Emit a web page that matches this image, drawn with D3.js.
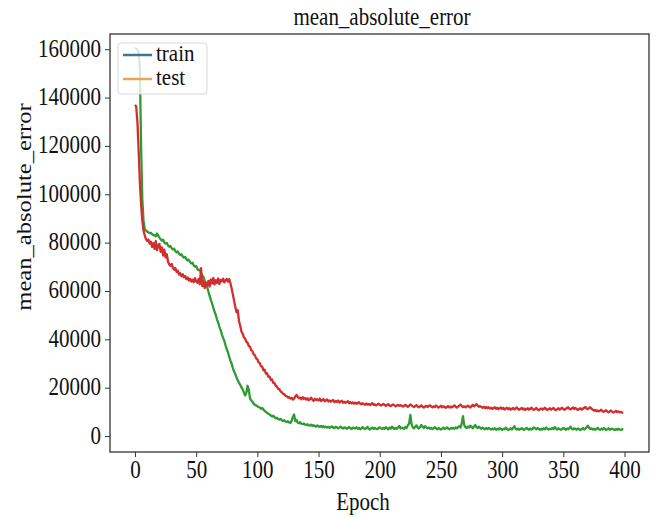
<!DOCTYPE html>
<html>
<head>
<meta charset="utf-8">
<script src="https://cdn.jsdelivr.net/npm/d3@7"></script>
<style>
  html, body { margin: 0; padding: 0; background: #fff; }
  text { font-family: "Liberation Serif", "Times New Roman", serif; fill: #111; }
</style>
</head>
<body>
<svg id="chart" width="658" height="518"></svg>
<script>
// values in thousands, one per epoch (0..399)
var trainK = [
  160.5,160.2,159.8,158.9,152.0,120.0,98.0,89.0,85.6,85.0,84.6,84.2,83.9,84.1,83.5,83.2,83.0,82.6,83.8,82.9,
  82.1,81.4,80.8,81.2,80.1,79.6,79.9,78.8,78.3,78.6,77.7,77.2,77.5,76.5,76.0,76.3,75.4,74.9,75.2,74.3,
  73.8,74.1,73.2,72.6,72.9,72.0,71.4,71.7,70.6,70.1,70.3,69.2,68.6,68.8,67.5,66.4,65.8,64.2,62.9,61.5,
  59.8,58.0,56.3,54.9,53.1,51.4,50.2,48.3,46.9,45.2,43.8,42.1,40.6,39.4,37.5,35.9,34.6,32.8,31.2,29.9,
  28.1,26.7,25.6,24.2,23.1,22.0,21.2,20.1,19.3,18.0,16.8,17.9,20.8,19.1,15.6,14.7,14.2,13.4,12.9,12.6,
  12.3,12.0,11.8,11.3,11.6,11.0,10.4,10.0,9.6,9.2,8.9,8.5,8.1,8.4,7.8,7.3,7.6,7.0,6.8,7.1,
  6.6,6.2,6.5,6.0,5.8,6.1,5.6,5.4,6.3,7.9,8.9,6.2,6.6,5.5,5.3,5.7,5.1,4.9,5.2,4.7,
  4.6,4.9,4.4,4.3,4.7,4.2,4.5,4.1,3.9,4.4,4.0,3.8,4.2,3.7,4.1,3.6,3.9,3.5,3.8,3.4,
  3.7,4.0,3.5,3.3,3.8,3.6,3.2,3.5,3.9,3.4,3.1,3.6,3.3,3.0,3.4,3.7,3.2,2.9,3.5,3.3,
  3.1,3.6,3.0,3.4,2.8,3.2,3.7,3.1,2.9,3.3,3.8,3.0,2.7,3.2,3.5,2.9,3.4,3.0,2.8,3.3,
  3.6,3.1,2.9,3.4,3.0,3.7,3.2,2.8,3.5,3.1,3.9,3.3,2.9,3.4,3.0,3.6,4.2,3.1,3.5,3.2,
  3.0,3.8,3.4,4.5,5.2,8.7,4.9,3.6,3.2,3.9,4.4,3.5,3.1,3.7,4.6,3.9,3.3,4.1,3.6,3.2,
  3.5,3.0,3.4,2.9,3.2,3.7,3.1,2.8,3.3,3.0,2.7,3.1,3.5,2.9,3.2,3.6,3.0,2.8,3.3,3.1,
  3.4,3.0,3.6,3.2,3.7,4.1,3.5,5.4,8.2,4.6,3.6,3.3,3.9,3.5,4.3,3.8,3.2,4.0,4.6,3.6,
  3.3,3.9,3.4,3.0,3.5,3.1,2.8,3.3,2.9,3.4,3.0,2.7,3.1,2.8,3.2,2.6,3.0,2.7,3.3,2.9,
  2.6,3.0,2.8,3.5,2.9,2.5,2.8,3.2,2.7,3.4,4.1,3.0,2.7,3.1,2.6,2.9,3.3,2.8,2.5,3.0,
  3.4,2.9,2.6,3.1,2.7,3.0,3.6,3.2,2.8,3.3,2.9,2.6,3.0,2.7,3.2,2.8,3.5,3.1,2.7,3.0,
  2.8,3.3,2.9,3.7,3.1,2.7,3.2,2.8,2.6,3.0,3.4,2.9,2.6,3.1,2.8,3.3,3.9,3.0,2.7,3.2,
  2.9,2.6,3.1,2.8,2.5,2.9,3.3,2.7,3.1,3.6,4.3,3.5,2.9,3.2,2.7,3.0,2.6,2.9,3.4,2.8,
  2.6,3.0,2.7,3.3,2.9,2.5,2.8,3.2,2.6,2.9,3.1,2.7,2.5,2.9,2.6,3.0,2.7,2.5,2.8,2.6
];
var testK = [
  137.0,136.3,130.0,118.0,105.0,96.0,89.0,85.0,83.0,81.5,80.8,81.3,79.6,80.4,78.2,79.8,77.4,80.6,76.8,78.9,
  79.5,76.2,78.0,74.6,77.1,73.9,75.2,72.1,71.0,70.4,71.2,69.6,68.8,69.5,67.9,68.4,66.8,67.3,66.1,66.9,
  65.7,66.2,64.9,65.6,64.3,65.1,63.9,64.7,63.6,65.3,64.0,63.4,65.0,62.8,69.4,62.0,64.1,61.2,63.5,62.3,
  64.2,61.8,64.8,63.1,65.4,62.7,64.5,63.3,65.2,62.9,64.6,64.0,65.1,63.5,64.4,65.0,63.8,64.9,63.2,61.0,
  58.5,56.0,53.4,51.2,52.0,47.5,45.6,43.2,42.4,40.8,40.3,39.0,38.6,37.2,36.9,35.5,35.1,33.7,33.4,32.1,
  31.8,30.4,30.2,28.8,28.7,27.2,27.4,25.8,25.9,24.5,24.6,23.2,23.4,22.0,21.9,20.8,20.5,19.5,19.4,18.4,
  18.2,17.4,17.3,16.6,16.5,15.9,16.1,15.5,15.8,15.1,15.5,16.4,17.0,16.2,15.6,15.9,15.2,16.1,15.4,15.8,
  15.1,15.6,14.8,15.3,15.9,15.0,14.6,15.4,14.9,15.2,14.7,15.5,14.5,14.9,15.3,14.4,14.8,15.1,14.3,14.7,
  14.2,14.6,14.9,14.0,14.5,14.1,14.7,13.9,14.3,14.6,13.8,14.2,13.7,14.1,14.4,13.6,14.0,13.5,13.9,13.4,
  13.8,13.3,13.7,14.0,13.4,13.1,13.6,13.2,12.9,13.5,13.0,13.3,12.8,13.2,13.6,12.9,13.1,12.7,13.0,13.4,
  12.9,12.6,13.0,13.3,12.8,12.5,12.9,13.2,12.6,12.4,12.8,13.1,12.7,12.3,12.6,12.9,12.5,12.8,12.4,12.2,
  12.6,12.9,12.4,12.1,12.5,13.1,12.7,12.3,12.0,12.4,12.8,12.2,11.9,12.3,12.7,12.1,11.8,12.2,12.5,12.0,
  12.4,12.7,12.2,11.9,12.3,12.0,12.6,12.2,11.8,12.1,12.5,11.9,12.3,12.0,11.7,12.1,12.4,11.8,12.2,11.9,
  12.3,12.7,12.1,11.8,12.2,12.6,13.0,12.4,12.0,12.3,11.9,12.2,12.6,12.1,11.8,12.4,12.9,12.3,12.7,13.2,
  12.6,12.1,12.4,12.0,11.7,12.1,11.6,12.0,11.5,11.9,11.4,11.7,11.2,11.6,11.9,11.3,11.7,11.1,11.5,11.8,
  11.2,11.6,11.0,11.4,11.7,11.1,11.5,10.9,11.3,11.6,11.0,11.4,11.8,11.2,10.9,11.3,11.6,11.0,11.4,10.8,
  11.2,11.5,10.9,11.3,11.7,11.1,10.8,11.2,11.6,11.0,10.7,11.1,11.4,10.9,11.3,11.7,11.1,10.8,11.2,11.5,
  10.9,11.3,11.6,11.0,10.7,11.1,11.5,10.9,11.3,11.7,11.2,10.8,11.2,11.6,11.9,11.3,11.0,11.4,11.8,11.2,
  11.6,11.1,10.8,11.2,11.5,10.9,11.3,11.7,12.0,11.4,11.1,11.6,11.9,11.3,10.9,10.5,10.8,10.3,10.6,10.2,
  10.5,10.9,10.3,10.0,10.4,10.7,10.1,9.8,10.2,10.6,10.0,9.7,10.1,10.4,9.9,10.2,9.8,10.0,9.7,9.6
];
var xTicks = [0, 50, 100, 150, 200, 250, 300, 350, 400];
var yTicks = [0, 20000, 40000, 60000, 80000, 100000, 120000, 140000, 160000];
var legendNames = ["train", "test"];
var legendColors = ["#41739b", "#eca456"];

(function() {
  var train = trainK.map(function(v, i) { return [i, v * 1000]; });
  var test = testK.map(function(v, i) { return [i, v * 1000]; });

  var pl = 110, pr = 649, pt = 34, pb = 452;
  var stretch = 1.17; // text in the reference is drawn slightly tall

  var svg = d3.select('#chart');
  var x = d3.scaleLinear().domain([-20.4, 420]).range([pl, pr]);
  var y = d3.scaleLinear().domain([-6600, 166300]).range([pb, pt]);

  svg.append('defs').append('clipPath').attr('id', 'plotclip')
    .append('rect').attr('x', pl).attr('y', pt).attr('width', pr - pl).attr('height', pb - pt);

  var line = d3.line().x(function(d) { return x(d[0]); }).y(function(d) { return y(d[1]); });

  var lines = svg.append('g').attr('clip-path', 'url(#plotclip)');
  lines.append('path').datum(train).attr('d', line)
    .attr('fill', 'none').attr('stroke', '#2e9b33').attr('stroke-width', 2.3).attr('stroke-linejoin', 'round');
  lines.append('path').datum(test).attr('d', line)
    .attr('fill', 'none').attr('stroke', '#d22e2e').attr('stroke-width', 2.3).attr('stroke-linejoin', 'round');

  // axes
  var xAxis = svg.append('g').attr('transform', 'translate(0,' + pb + ')')
    .call(d3.axisBottom(x).tickValues(xTicks).tickSize(5).tickFormat(d3.format('d')));
  var yAxis = svg.append('g').attr('transform', 'translate(' + pl + ',0)')
    .call(d3.axisLeft(y).tickValues(yTicks).tickSize(5).tickFormat(d3.format('d')));

  [xAxis, yAxis].forEach(function(a) {
    a.select('.domain').remove();
    a.selectAll('.tick line').attr('stroke', '#333').attr('stroke-width', 1);
    a.selectAll('.tick text').attr('font-size', 21).style('font-family', '"Liberation Serif", serif').attr('fill', '#111');
  });
  xAxis.selectAll('.tick text').attr('dy', null).attr('y', null).attr('x', null)
    .attr('transform', 'translate(0,26) scale(1,' + stretch + ')');
  yAxis.selectAll('.tick text').attr('dy', null).attr('x', null).attr('y', null)
    .attr('transform', 'translate(-9,7) scale(1,' + stretch + ')');

  // frame
  svg.append('rect').attr('x', pl).attr('y', pt).attr('width', pr - pl).attr('height', pb - pt)
    .attr('fill', 'none').attr('stroke', '#333').attr('stroke-width', 1.3);

  // titles
  svg.append('text').attr('text-anchor', 'middle').attr('font-size', 21)
    .attr('transform', 'translate(382,25) scale(1,' + stretch + ')').text('mean_absolute_error');
  svg.append('text').attr('text-anchor', 'middle').attr('font-size', 21)
    .attr('transform', 'translate(363,510) scale(1,' + stretch + ')').text('Epoch');
  svg.append('text').attr('text-anchor', 'middle').attr('font-size', 21)
    .attr('transform', 'translate(31,207) scale(1,' + stretch + ') rotate(-90)').text('mean_absolute_error');

  // legend
  var leg = svg.append('g');
  leg.append('rect').attr('x', 118).attr('y', 43).attr('width', 89).attr('height', 51).attr('rx', 3)
    .attr('fill', '#fff').attr('fill-opacity', 0.8).attr('stroke', '#d8d8d8').attr('stroke-width', 1);
  legendNames.forEach(function(name, i) {
    var ly = 55 + i * 24;
    leg.append('line').attr('x1', 123).attr('x2', 152).attr('y1', ly).attr('y2', ly)
      .attr('stroke', legendColors[i]).attr('stroke-width', 2.5);
    leg.append('text').attr('font-size', 21)
      .attr('transform', 'translate(156,' + (ly + 6) + ') scale(1,1.05)').text(name);
  });
})();
</script>
</body>
</html>
